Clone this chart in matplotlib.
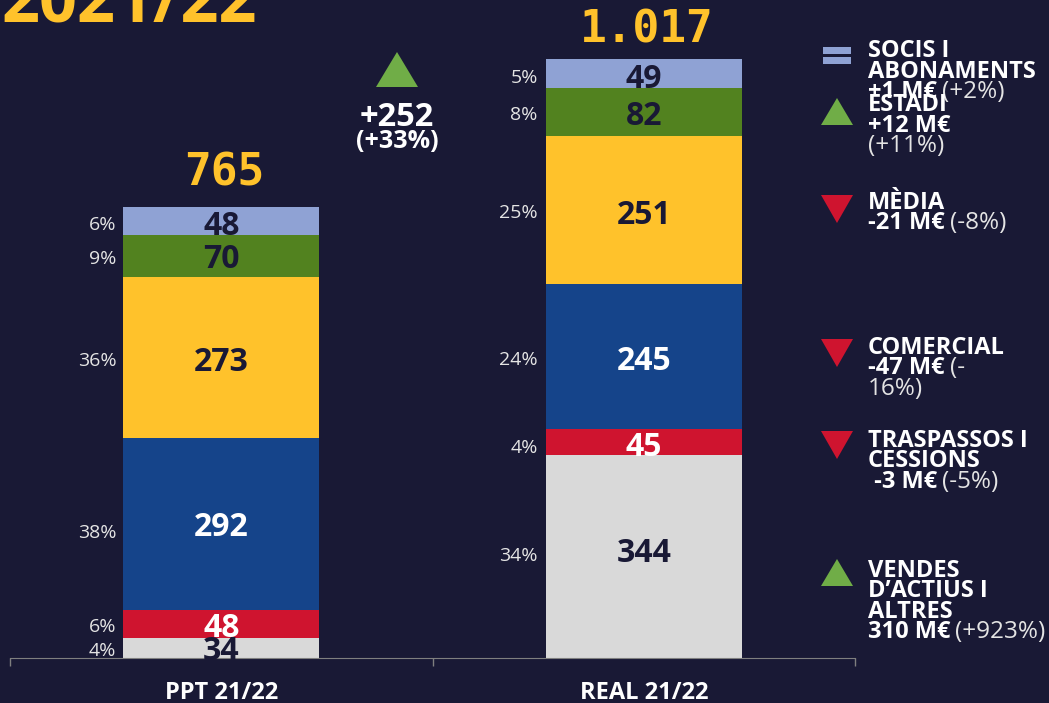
import matplotlib
matplotlib.use("Agg")
import matplotlib.pyplot as plt
from matplotlib.patches import Polygon, Rectangle

W, H = 1049, 703
BG = "#191935"
YELLOW = "#FFC22B"

categories = ["PPT 21/22", "REAL 21/22"]
totals = ["765", "1.017"]
# bottom to top
segments = ["Vendes", "Traspassos", "Comercial", "Media", "Estadi", "Socis"]
ppt_values = [34, 48, 292, 273, 70, 48]
real_values = [344, 45, 245, 251, 82, 49]
ppt_pct = ["4%", "6%", "38%", "36%", "9%", "6%"]
real_pct = ["34%", "4%", "24%", "25%", "8%", "5%"]
seg_colors = ["#D9D9D9", "#CF142F", "#15448A", "#FFC22B", "#52821F", "#8FA2D4"]
label_colors = [BG, "white", "white", BG, BG, BG]

# label nudges in pixels, the labels in the original are not centred exactly
value_nudge = [[-2, -3, -2, -3, -2, -3], [5, -4, -3, -3, -2, -4]]
pct_nudge = [[-3, -3, -9, -4, -3, -4], [1, -6, -4, -3, -3, -4]]
pct_gap = [7, 8]
total_gap = [22, 17]

legend_items = [
    ("eq", 55, ["SOCIS I", "ABONAMENTS"], [57, 78], [("+1 M€", "(+2%)", 98)]),
    ("up", 112, ["ESTADI"], [111], [("+12 M€", "", 132), ("", "(+11%)", 152)]),
    ("down", 209, ["MÈDIA"], [209], [("-21 M€", "(-8%)", 229)]),
    ("down", 353, ["COMERCIAL"], [354], [("-47 M€", "(-", 374), ("", "16%)", 395)]),
    ("down", 445, ["TRASPASSOS I", "CESSIONS"], [447, 467], [(" -3 M€", "(-5%)", 488)]),
    ("up", 573, ["VENDES", "D’ACTIUS I", "ALTRES"], [577, 597, 618], [("310 M€", "(+923%)", 638)]),
]

plt.rcParams["font.family"] = ["Open Sans", "DejaVu Sans"]
fig = plt.figure(figsize=(W / 100, H / 100), dpi=100, facecolor=BG)

# main chart axes: baseline sits at pixel row 658
ax = fig.add_axes([10 / W, (H - 658) / H, 845 / W, 658 / H], facecolor=BG)
ax.set_xlim(-0.5, 1.5)
ax.set_ylim(0, 658 / 0.5895)
for s in ["top", "left", "right"]:
    ax.spines[s].set_visible(False)
ax.spines["bottom"].set_color("#7F7F7F")
ax.set_yticks([])
ax.set_xticks([-0.5, 0.5, 1.5])
ax.set_xticklabels([])
ax.tick_params(axis="x", length=6, color="#7F7F7F", width=1)
ax.set_xticks([0, 1], minor=True)
ax.set_xticklabels(categories, minor=True, fontsize=17, fontweight="bold", color="white")
ax.tick_params(axis="x", which="minor", length=0, pad=16.5)

bar_w = 196 / 422.5
for i, (vals, pcts) in enumerate(zip([ppt_values, real_values], [ppt_pct, real_pct])):
    bottom = 0
    for j, (v, p, c, lc) in enumerate(zip(vals, pcts, seg_colors, label_colors)):
        ax.bar(i, v, bar_w, bottom=bottom, color=c, zorder=2)
        mid = bottom + v / 2
        ax.annotate(str(v), (i, mid), xytext=(0, value_nudge[i][j] - 2), textcoords="offset pixels",
                    ha="center", va="center", fontsize=23, fontweight="bold", color=lc, zorder=3)
        ax.annotate(p, (i - bar_w / 2, mid), xytext=(-pct_gap[i], pct_nudge[i][j]), textcoords="offset pixels",
                    ha="right", va="center", fontsize=14, color="#E4E4E4")
        bottom += v
    ax.annotate(totals[i], (i, bottom), xytext=(3, total_gap[i]), textcoords="offset pixels", ha="center",
                va="baseline", fontsize=32, fontweight="bold", family="DejaVu Sans Mono", color=YELLOW)

# overlay in pixel coordinates for title, delta and legend
ov = fig.add_axes([0, 0, 1, 1])
ov.set_xlim(0, W)
ov.set_ylim(H, 0)
ov.axis("off")
ov.patch.set_alpha(0)

ov.text(1, 21, "2021/22", fontsize=48, fontweight="bold", color=YELLOW, va="baseline", clip_on=False)
ov.add_patch(Polygon([(376, 87), (397, 52), (418, 87)], color="#70AD47", lw=0))
ov.text(397, 126, "+252", fontsize=23.5, fontweight="bold", color="white", ha="center", va="baseline")
ov.text(397, 148, "(+33%)", fontsize=18, fontweight="bold", color="white", ha="center", va="baseline")


def draw_icon(kind, y):
    if kind == "eq":
        ov.add_patch(Rectangle((823, y - 8), 28, 7, color="#8FA2D4", lw=0))
        ov.add_patch(Rectangle((823, y + 2), 28, 7, color="#8FA2D4", lw=0))
    elif kind == "up":
        ov.add_patch(Polygon([(821, y + 13), (837, y - 14), (853, y + 13)], color="#70AD47", lw=0))
    else:
        ov.add_patch(Polygon([(821, y - 14), (853, y - 14), (837, y + 14)], color="#CF142F", lw=0))


renderer = fig.canvas.get_renderer()
inv = ov.transData.inverted()
for kind, icon_y, names, name_ys, rows in legend_items:
    draw_icon(kind, icon_y)
    for name, y in zip(names, name_ys):
        ov.text(868, y, name, fontsize=17, fontweight="bold", color="white", va="baseline")
    for bold, light, y in rows:
        x = 868
        if bold:
            t = ov.text(x, y, bold, fontsize=17, fontweight="bold", color="white", va="baseline")
            x = inv.transform(t.get_window_extent(renderer).get_points())[1][0] + 5
        if light:
            ov.text(x, y, light, fontsize=17.5, color="#E4E4E4", va="baseline")

fig.savefig("out.png", dpi=100, facecolor=BG)
